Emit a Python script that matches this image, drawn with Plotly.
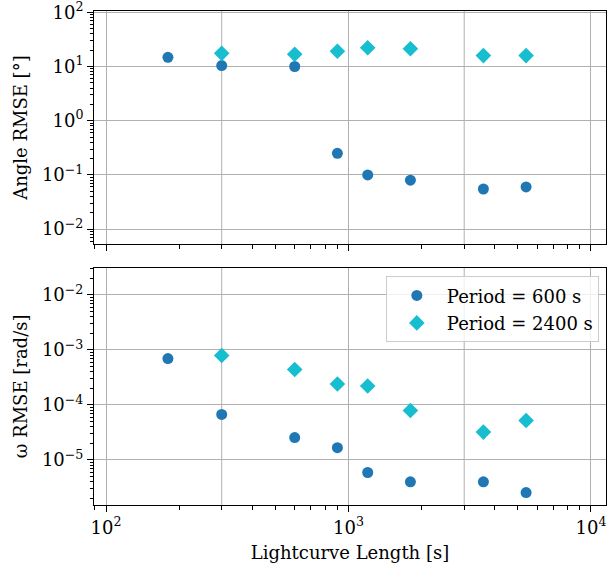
import plotly.graph_objects as go
from plotly.subplots import make_subplots

# ---- data ----
len_600 = [180, 300, 600, 900, 1200, 1800, 3600, 5400]
len_2400 = [300, 600, 900, 1200, 1800, 3600, 5400]

angle_600 = [14.8, 10.4, 10.0, 0.25, 0.10, 0.080, 0.055, 0.060]
angle_2400 = [17.5, 16.8, 19.1, 22.2, 21.3, 15.9, 15.9]

omega_600 = [6.95e-4, 6.7e-5, 2.55e-5, 1.67e-5, 5.9e-6, 4.0e-6, 4.0e-6, 2.55e-6]
omega_2400 = [7.9e-4, 4.4e-4, 2.4e-4, 2.2e-4, 7.9e-5, 3.2e-5, 5.2e-5]

x_exponents = [2, 3, 4]
y_top_exponents = [-2, -1, 0, 1, 2]
y_bot_exponents = [-5, -4, -3, -2]

label_600 = "Period = 600 s"
label_2400 = "Period = 2400 s"
x_title = "Lightcurve Length [s]"
y_title_top = "Angle RMSE [°]"
y_title_bot = "ω RMSE [rad/s]"
extra_x_grid = [300, 3000]

C1 = "#1f77b4"
C2 = "#17becf"
FONT = "'DejaVu Serif', 'Liberation Serif', serif"
FS = 18


def pow_label(e):
    s = str(e).replace("-", "\u2212")
    return "10<sup>" + s + "</sup>"


def minor_vals(lo, hi):
    return [m * 10 ** e for e in range(lo, hi) for m in range(2, 10)]


fig = make_subplots(rows=2, cols=1, shared_xaxes=False, vertical_spacing=0.048)

fig.add_trace(go.Scatter(x=len_600, y=angle_600, mode="markers", name=label_600,
                         marker=dict(symbol="circle", size=11, color=C1),
                         legendgroup="a", showlegend=False), row=1, col=1)
fig.add_trace(go.Scatter(x=len_2400, y=angle_2400, mode="markers", name=label_2400,
                         marker=dict(symbol="diamond", size=12, color=C2),
                         legendgroup="b", showlegend=False), row=1, col=1)
fig.add_trace(go.Scatter(x=len_600, y=omega_600, mode="markers", name=label_600,
                         marker=dict(symbol="circle", size=11, color=C1),
                         legendgroup="a"), row=2, col=1)
fig.add_trace(go.Scatter(x=len_2400, y=omega_2400, mode="markers", name=label_2400,
                         marker=dict(symbol="diamond", size=12, color=C2),
                         legendgroup="b"), row=2, col=1)

tick_font = dict(family=FONT, size=FS, color="black")
common_x = dict(type="log", range=[1.9505, 4.0619], showline=True, linecolor="black",
                linewidth=1, mirror=True, ticks="outside", ticklen=6, tickcolor="black",
                tickwidth=1, showgrid=True, gridcolor="#b0b0b0", gridwidth=1,
                tickmode="array", tickvals=[10 ** e for e in x_exponents],
                ticktext=[pow_label(e) for e in x_exponents],
                zeroline=False, automargin=False, ticklabeloverflow="allow",
                minor=dict(tickmode="array", tickvals=minor_vals(1, 5), ticks="outside",
                           ticklen=3.5, tickcolor="black", showgrid=False),
                tickfont=tick_font)
common_y = dict(type="log", showline=True, linecolor="black", linewidth=1, mirror=True,
                ticks="outside", ticklen=6, tickcolor="black", tickwidth=1,
                showgrid=True, gridcolor="#b0b0b0", gridwidth=1,
                zeroline=False, automargin=False, ticklabeloverflow="allow",
                minor=dict(tickmode="array", tickvals=minor_vals(-8, 4), ticks="outside",
                           ticklen=3.5, tickcolor="black", showgrid=False),
                tickfont=tick_font)

fig.update_xaxes(**common_x)
fig.update_xaxes(showticklabels=False, row=1, col=1)
fig.update_xaxes(title=dict(text=x_title, font=tick_font, standoff=9), row=2, col=1)
fig.update_yaxes(**common_y)
fig.update_yaxes(range=[-2.277, 2.024], tickmode="array",
                 tickvals=[10.0 ** e for e in y_top_exponents],
                 ticktext=[pow_label(e) for e in y_top_exponents],
                 title=dict(text=y_title_top, font=tick_font, standoff=9), row=1, col=1)
fig.update_yaxes(range=[-5.82, -1.509], tickmode="array",
                 tickvals=[10.0 ** e for e in y_bot_exponents],
                 ticktext=[pow_label(e) for e in y_bot_exponents],
                 title=dict(text=y_title_bot, font=tick_font, standoff=9), row=2, col=1)

for r in (1, 2):
    for gx in extra_x_grid:
        fig.add_vline(x=gx, line=dict(color="#b0b0b0", width=1), layer="below", row=r, col=1)

fig.update_layout(
    width=608, height=568,
    margin=dict(l=94, r=2, t=11, b=63),
    plot_bgcolor="white", paper_bgcolor="white",
    font=dict(family=FONT, size=FS, color="black"),
    legend=dict(x=0.986, xanchor="right", y=0.463, yanchor="top",
                bgcolor="rgba(255,255,255,0.8)", bordercolor="#cccccc", borderwidth=1,
                font=dict(family=FONT, size=FS, color="black"),
                itemwidth=50, tracegroupgap=1),
)
fig.layout.yaxis.domain = [0.528, 1.0]
fig.layout.yaxis2.domain = [0.0, 0.480]

fig.write_html("out.html", config={"displayModeBar": False},
               post_script="document.body.style.margin='0';document.body.style.overflow='hidden';")
